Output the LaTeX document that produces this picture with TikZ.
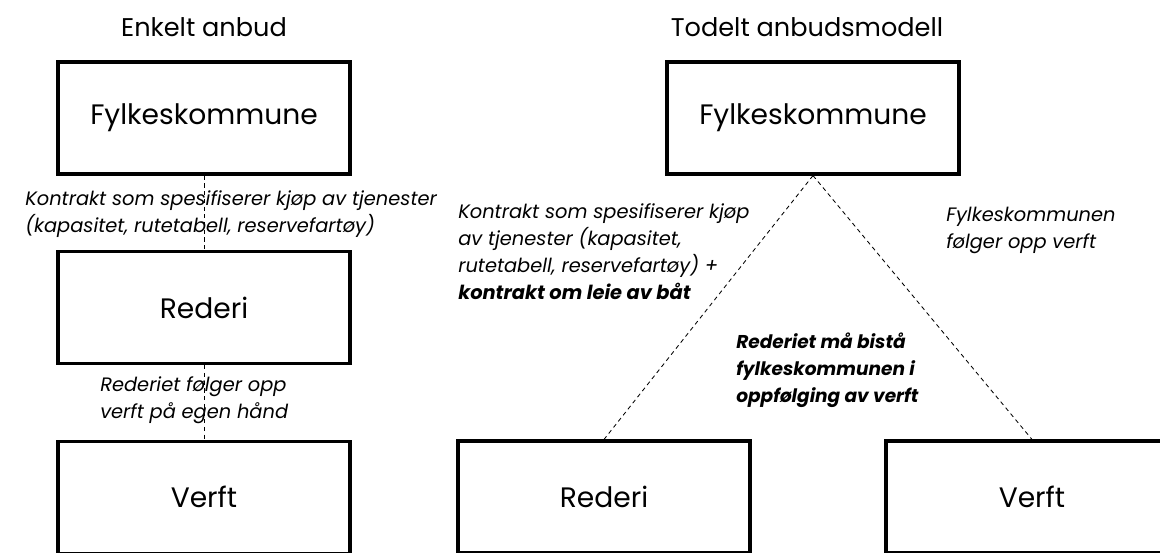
\documentclass[tikz,border=0pt]{standalone}
\usepackage{fontspec}
\setmainfont{Poppins}
\usetikzlibrary{positioning}
\tikzset{
  box/.style={
    rectangle, draw, line width=2.2pt, minimum width=7.3cm,
    minimum height=2.8cm, text centered, font=\fontsize{20}{24}\selectfont
  },
  ttl/.style={font=\fontsize{18.2}{22}\selectfont},
  lbl/.style={font=\itshape\fontsize{13.8}{19.2}\selectfont,
    align=left, anchor=west, inner sep=0pt},
  blbl/.style={lbl, font=\bfseries\itshape\fontsize{13.2}{19.2}\selectfont},
  link/.style={dash pattern=on 3pt off 2.5pt, line width=0.6pt}
}

\begin{document}
\begin{tikzpicture}[x=0.025cm, y=-0.025cm, node distance=1.86cm]
  \useasboundingbox (0,0) rectangle (1160,553);

  %% ── Enkelt anbud ─────────────────────────────────────────
  \node[ttl] (t1) at (204,27) {Enkelt anbud};
  \node[box] (fk1) at (204,118) {Fylkeskommune};
  \node[box, below=of fk1] (rd1) {Rederi};
  \node[box, below=of rd1] (vf1) {Verft};

  \draw[link] (fk1) -- (rd1);
  \draw[link] (rd1) -- (vf1);

  \node[lbl] (k1) at (25,214)
       {Kontrakt som spesifiserer kjøp av tjenester\\(kapasitet, rutetabell, reservefartøy)};
  \node[lbl] (k2) at (100,400)
       {Rederiet følger opp\\verft på egen hånd};

  %% ── Todelt anbudsmodell ──────────────────────────────────
  \node[ttl] (t2) at (807,27) {Todelt anbudsmodell};
  \node[box] (fk2) at (813,118) {Fylkeskommune};
  \node[box] (rd2) at (604,497) {Rederi};
  \node[box] (vf2) at (1032,497) {Verft};

  \draw[link] (fk2.south) -- (rd2.north);
  \draw[link] (fk2.south) -- (vf2.north);

  \node[lbl] (k3) at (458,252)
       {Kontrakt som spesifiserer kjøp\\av tjenester (kapasitet,\\rutetabell, reservefartøy) +\\
        \textbf{kontrakt om leie av båt}};
  \node[lbl] (k4) at (946,230)
       {Fylkeskommunen\\følger opp verft};
  \node[blbl] (k5) at (736,370)
       {Rederiet må bistå\\fylkeskommunen i\\oppfølging av verft};

\end{tikzpicture}
\end{document}
